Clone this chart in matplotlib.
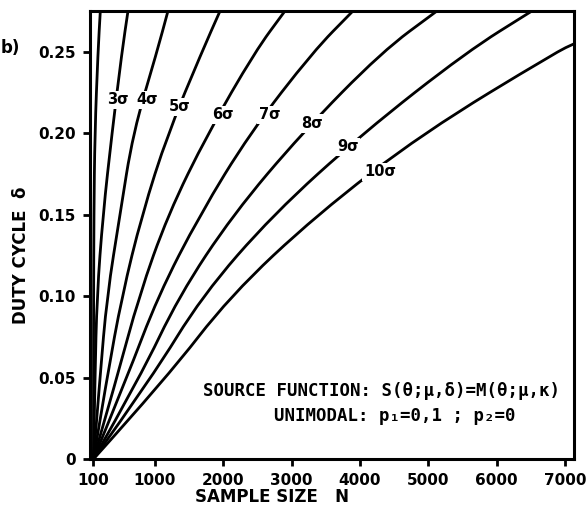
import numpy as np
import matplotlib.pyplot as plt
from matplotlib.path import Path
from matplotlib.patches import PathPatch

# fonts: narrow bold for the hand-lettered look, mono for the typed note
NARROW = ['Liberation Sans Narrow', 'DejaVu Sans']
MONO = ['DejaVu Sans Mono']

# data: sample size N where each curve reaches duty cycle delta
delta = [0, 0.05, 0.10, 0.15, 0.20, 0.25]
n_c1 = [100, 100, 102, 106, 120, 166]       # unlabeled curve along the axis
n_3s = [100, 122, 151, 239, 371, 517]
n_4s = [100, 195, 298, 488, 678, 1029]
n_5s = [100, 298, 517, 810, 1190, 1688]
n_6s = [100, 444, 766, 1190, 1775, 2463]
n_7s = [100, 590, 1044, 1658, 2390, 3312]
n_8s = [100, 780, 1351, 2141, 3150, 4321]
n_9s = [100, 956, 1687, 2726, 4043, 5565]
n_10s = [100, 1175, 2097, 3370, 4920, 6881]
# where each curve leaves the frame
top_n = [200, 605, 1190, 1952, 2902, 3897, 5126, 6516, 7140]
top_delta = [0.275, 0.275, 0.275, 0.275, 0.275, 0.275, 0.275, 0.275, 0.255]

curves = [n_c1, n_3s, n_4s, n_5s, n_6s, n_7s, n_8s, n_9s, n_10s]

sigma_labels = ['3σ', '4σ', '5σ', '6σ', '7σ', '8σ', '9σ', '10σ']
label_n = [458, 883, 1366, 1995, 2682, 3297, 3823, 4291]
label_delta = [0.2205, 0.2205, 0.2162, 0.2113, 0.2113, 0.2058, 0.1916, 0.1763]

x_ticks = [100, 1000, 2000, 3000, 4000, 5000, 6000, 7000]
y_ticks = [0, 0.05, 0.10, 0.15, 0.20, 0.25]
y_ticklabels = ['0', '0.05', '0.10', '0.15', '0.20', '0.25']


def smooth_path(xs, ys):
    # quadratic bezier through the midpoints, read points used as control points
    pts = list(zip(xs, ys))
    verts = [pts[0]]
    codes = [Path.MOVETO]
    for i in range(1, len(pts) - 1):
        if i == 1:
            verts.append(pts[0])
            codes.append(Path.LINETO)
        mid = ((pts[i][0] + pts[i+1][0]) / 2, (pts[i][1] + pts[i+1][1]) / 2)
        verts += [pts[i], mid]
        codes += [Path.CURVE3, Path.CURVE3]
    verts.append(pts[-1])
    codes.append(Path.LINETO)
    return Path(verts, codes)


fig = plt.figure(figsize=(5.87, 5.15), dpi=100)
ax = fig.add_axes([90/587, 56/515, 484/587, 448/515])

for i, n in enumerate(curves):
    xs = list(n) + [top_n[i]]
    ys = list(delta) + [top_delta[i]]
    p = PathPatch(smooth_path(xs, ys), fc='none', ec='black', lw=2.0,
                  capstyle='round', zorder=2)
    ax.add_patch(p)

for lab, xn, yd in zip(sigma_labels, label_n, label_delta):
    ax.text(xn, yd, lab, ha='center', va='center', fontsize=10.5,
            fontweight='bold', family=NARROW, zorder=3,
            bbox=dict(boxstyle='square,pad=0.12', fc='white', ec='none'))

ax.set_xlim(49, 7132)
ax.set_ylim(0, 0.275)
ax.set_xticks(x_ticks)
ax.set_xticklabels([str(t) for t in x_ticks])
ax.set_yticks(y_ticks)
ax.set_yticklabels(y_ticklabels)
ax.tick_params(direction='out', length=5, width=2, pad=5, labelsize=11)
for lab in ax.get_xticklabels() + ax.get_yticklabels():
    lab.set_family(NARROW)
    lab.set_fontweight('bold')
for sp in ax.spines.values():
    sp.set_linewidth(2.2)

fig.text(272/587, 1 - 497/515, 'SAMPLE SIZE   N', fontsize=12,
         fontweight='bold', family=NARROW, ha='center', va='center')
fig.text(21/587, 1 - 255/515, 'DUTY CYCLE  δ', fontsize=12,
         fontweight='bold', family=NARROW, ha='center', va='center',
         rotation=90)

# typed note in the lower right
ax.text(0.233, 0.151, 'SOURCE FUNCTION: S(θ;μ,δ)=M(θ;μ,κ)',
        transform=ax.transAxes, fontsize=12.5, fontweight='bold',
        family=MONO, va='center', ha='left')
ax.text(0.381, 0.097, 'UNIMODAL: p₁=0,1 ; p₂=0',
        transform=ax.transAxes, fontsize=12.5, fontweight='bold',
        family=MONO, va='center', ha='left')

fig.text(1/587, 1 - 48/515, 'b)', ha='left', va='center',
         fontsize=12, fontweight='bold', family=NARROW)

fig.savefig('out.png', dpi=100)
